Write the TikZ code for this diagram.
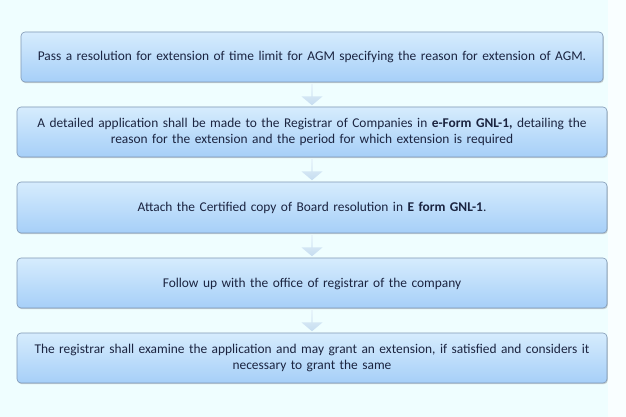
\documentclass[tikz,border=0pt]{standalone}
\usepackage{fontspec}
\setmainfont{Carlito}
\usetikzlibrary{shapes.arrows,shadows}
\definecolor{bgc}{HTML}{EFFEFF}
\definecolor{boxtop}{HTML}{D6ECFD}
\definecolor{boxbot}{HTML}{A6CFF8}
\definecolor{boxline}{HTML}{7F97B4}
\definecolor{txt}{HTML}{1B2440}
\definecolor{arrtop}{HTML}{E4F1FA}
\definecolor{arrbot}{HTML}{C6DDF0}
\tikzset{
  stepbox/.style={rounded corners=4pt, draw=boxline, line width=0.6pt,
    top color=boxtop, bottom color=boxbot,
    drop shadow={shadow xshift=0.8pt, shadow yshift=-1.2pt, opacity=0.35, fill=gray}},
  boxtext/.style={text=txt, font=\fontsize{13.4}{16}\selectfont, align=center, text width=600pt},
  downarrow/.style={single arrow, single arrow head extend=3.5pt, shape border rotate=270,
    top color=arrtop, bottom color=arrbot, draw=none, minimum height=21pt, minimum width=21pt, inner sep=0pt,
    single arrow tip angle=100},
}
\begin{document}
\begin{tikzpicture}[x=1pt,y=-1pt]
\useasboundingbox (0,0) rectangle (626,417);
\fill[bgc] (0,0) rectangle (608,417);
\fill[white!60!bgc] (608,0) rectangle (626,417);
% boxes
\draw[stepbox] (21,32) rectangle (603,82);
\node[boxtext] (b1) at (312,57.5) {Pass a resolution for extension of time limit for AGM specifying the reason for extension of AGM.};
\draw[stepbox] (17,107) rectangle (607,157);
\node[boxtext] (b2) at (312,132) {A detailed application shall be made to the Registrar of Companies in \textbf{e-Form GNL-1,} detailing the\\ reason for the extension and the period for which extension is required};
\draw[stepbox] (17,182) rectangle (607,233);
\node[boxtext] (b3) at (312,208) {Attach the Certified copy of Board resolution in \textbf{E form GNL-1}.};
\draw[stepbox] (17,258) rectangle (607,308);
\node[boxtext] (b4) at (312,283.5) {Follow up with the office of registrar of the company};
\draw[stepbox] (17,333) rectangle (607,383);
\node[boxtext] (b5) at (312,358) {The registrar shall examine the application and may grant an extension, if satisfied and considers it\\ necessary to grant the same};
% arrows
\node[downarrow] (a1) at (312,94.5) {};
\node[downarrow] (a2) at (312,169.5) {};
\node[downarrow] (a3) at (312,245.5) {};
\node[downarrow] (a4) at (312,320.5) {};
\end{tikzpicture}
\end{document}
